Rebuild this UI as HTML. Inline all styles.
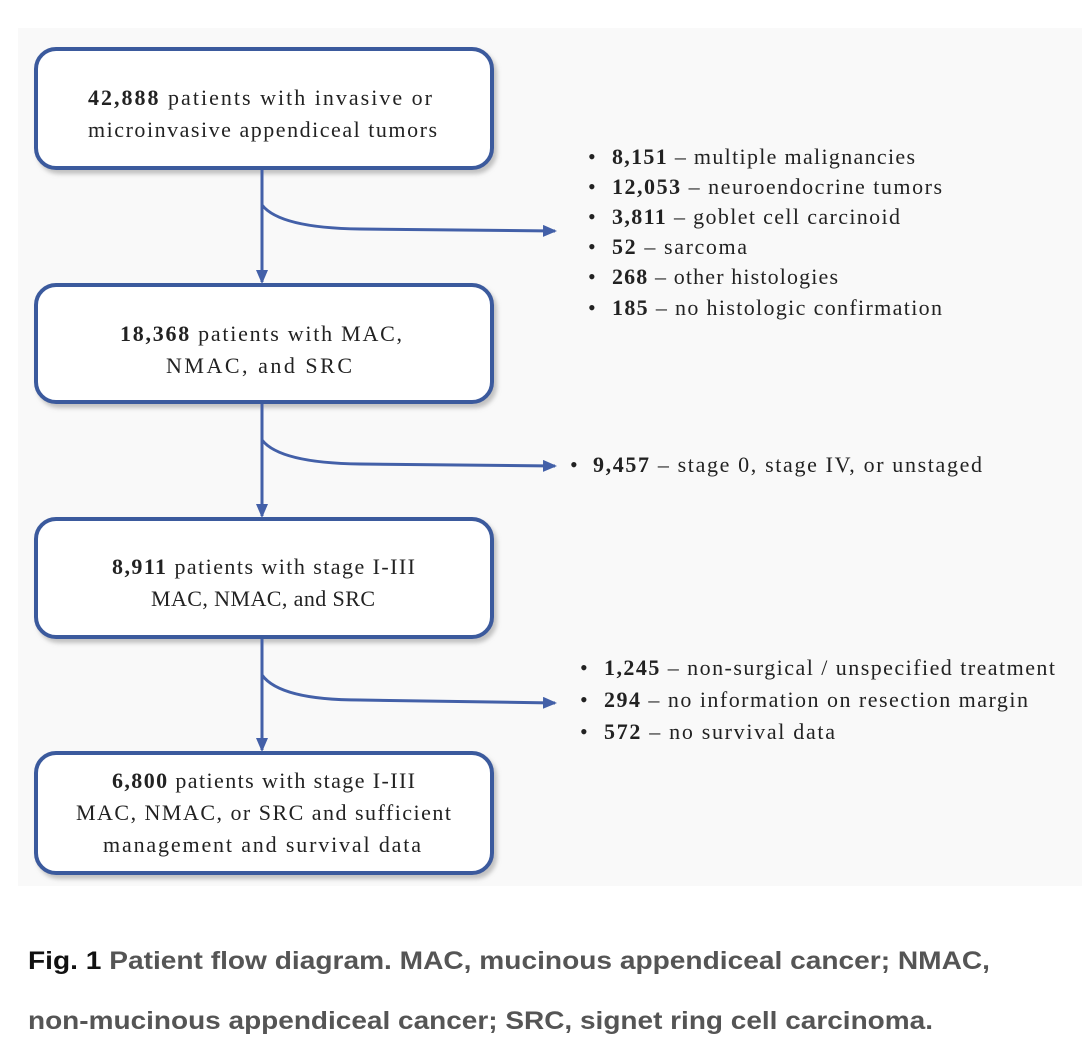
<!DOCTYPE html>
<html><head><meta charset="utf-8"><style>
html,body{margin:0;padding:0;background:#fff;}
</style></head><body>
<svg width="1092" height="1058" viewBox="0 0 1092 1058" xmlns="http://www.w3.org/2000/svg">
<defs>
<marker id="ah" markerWidth="14" markerHeight="12" refX="12" refY="6" orient="auto" markerUnits="userSpaceOnUse">
<path d="M0,0 L14,6 L0,12 z" fill="#4360a8"/>
</marker>
<filter id="sh" x="-5%" y="-5%" width="115%" height="120%"><feDropShadow dx="3" dy="4" stdDeviation="2" flood-color="#888" flood-opacity="0.5"/></filter>
</defs>
<rect x="0" y="0" width="1092" height="1058" fill="#fff"/>
<rect x="18" y="28" width="1064" height="858" fill="#f9f9f9"/>
<g fill="#fff" stroke="#3b5a9d" stroke-width="4" filter="url(#sh)">
<rect x="36" y="49" width="456" height="119" rx="20"/>
<rect x="36" y="285" width="456" height="117" rx="20"/>
<rect x="36" y="519" width="456" height="118" rx="20"/>
<rect x="36" y="753" width="456" height="120" rx="20"/>
</g>
<g stroke="#4360a8" stroke-width="3" fill="none">
<line x1="262" y1="170" x2="262" y2="282" marker-end="url(#ah)"/>
<path d="M262,205 Q280,228 360,229 L555,231" marker-end="url(#ah)"/>
<line x1="262" y1="404" x2="262" y2="516" marker-end="url(#ah)"/>
<path d="M262,440 Q280,463 360,464 L555,466" marker-end="url(#ah)"/>
<line x1="262" y1="639" x2="262" y2="750" marker-end="url(#ah)"/>
<path d="M262,675 Q280,700 360,700 L555,703" marker-end="url(#ah)"/>
</g>
<g font-family="Liberation Serif, serif" font-size="22" fill="#222" lengthAdjust="spacing">
<text x="88" y="105" textLength="344"><tspan font-weight="bold">42,888</tspan> patients with invasive or</text>
<text x="88" y="137" textLength="349">microinvasive appendiceal tumors</text>
<text x="120" y="341" textLength="282"><tspan font-weight="bold">18,368</tspan> patients with MAC,</text>
<text x="166" y="373" textLength="186">NMAC, and SRC</text>
<text x="112" y="574" textLength="303"><tspan font-weight="bold">8,911</tspan> patients with stage I-III</text>
<text x="151" y="606" textLength="224">MAC, NMAC, and SRC</text>
<text x="112" y="788" textLength="303"><tspan font-weight="bold">6,800</tspan> patients with stage I-III</text>
<text x="76" y="820" textLength="375">MAC, NMAC, or SRC and sufficient</text>
<text x="103" y="852" textLength="318">management and survival data</text>
</g>
<g font-family="Liberation Serif, serif" font-size="22" fill="#222">
<text x="588" y="164">•</text><text x="612" y="164" textLength="303"><tspan font-weight="bold">8,151</tspan> – multiple malignancies</text>
<text x="588" y="194">•</text><text x="612" y="194" textLength="330"><tspan font-weight="bold">12,053</tspan> – neuroendocrine tumors</text>
<text x="588" y="224">•</text><text x="612" y="224" textLength="288"><tspan font-weight="bold">3,811</tspan> – goblet cell carcinoid</text>
<text x="588" y="254">•</text><text x="612" y="254" textLength="135"><tspan font-weight="bold">52</tspan> – sarcoma</text>
<text x="588" y="284">•</text><text x="612" y="284" textLength="226"><tspan font-weight="bold">268</tspan> – other histologies</text>
<text x="588" y="315">•</text><text x="612" y="315" textLength="330"><tspan font-weight="bold">185</tspan> – no histologic confirmation</text>
<text x="570" y="472">•</text><text x="593" y="472" textLength="389"><tspan font-weight="bold">9,457</tspan> – stage 0, stage IV, or unstaged</text>
<text x="580" y="675">•</text><text x="604" y="675" textLength="451"><tspan font-weight="bold">1,245</tspan> – non-surgical / unspecified treatment</text>
<text x="580" y="707">•</text><text x="604" y="707" textLength="424"><tspan font-weight="bold">294</tspan> – no information on resection margin</text>
<text x="580" y="739">•</text><text x="604" y="739" textLength="231"><tspan font-weight="bold">572</tspan> – no survival data</text>
</g>
<g font-family="Liberation Sans, sans-serif" font-size="25" font-weight="bold">
<text x="28" y="969" textLength="962" lengthAdjust="spacingAndGlyphs"><tspan fill="#111">Fig. 1</tspan><tspan fill="#555"> Patient flow diagram. MAC, mucinous appendiceal cancer; NMAC,</tspan></text>
<text x="28" y="1029" fill="#555" textLength="905" lengthAdjust="spacingAndGlyphs">non-mucinous appendiceal cancer; SRC, signet ring cell carcinoma.</text>
</g>
</svg>
</body></html>
